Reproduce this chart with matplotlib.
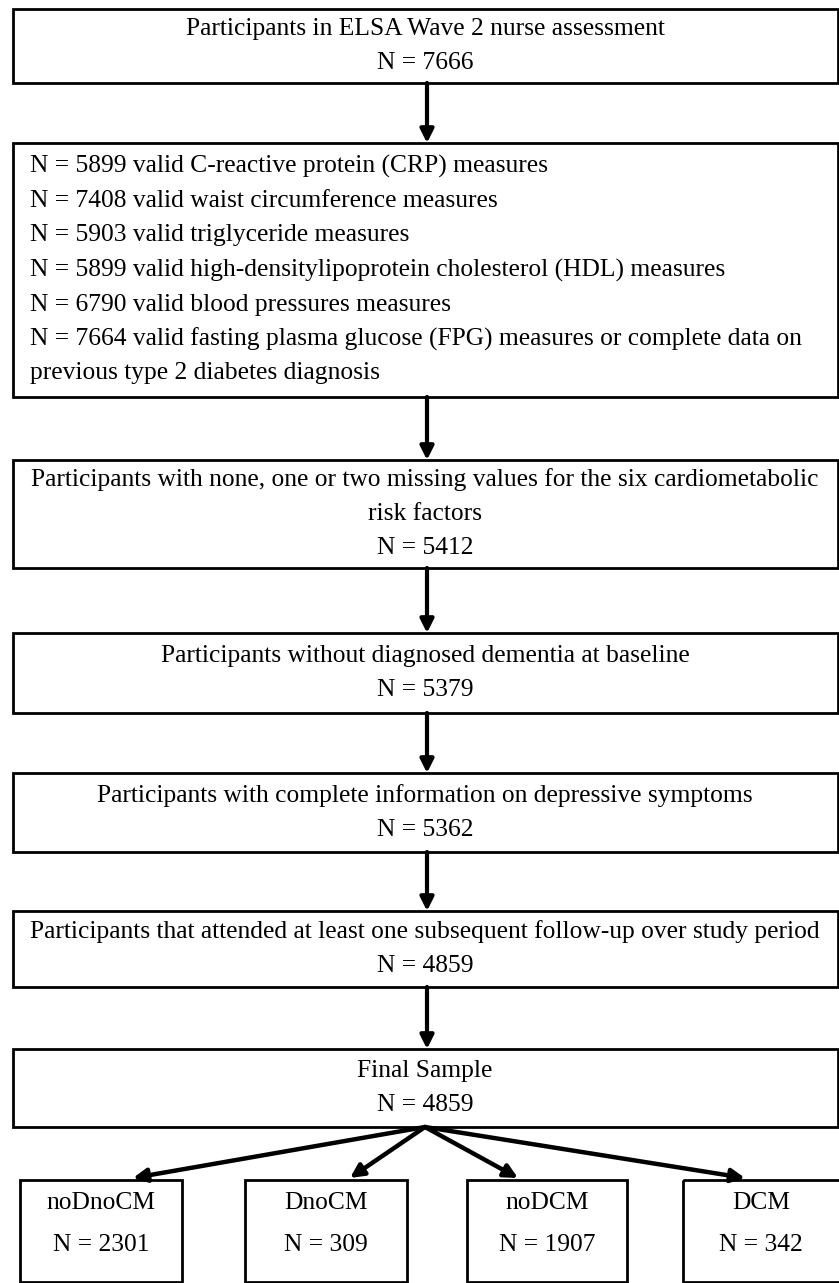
import matplotlib.pyplot as plt
from matplotlib.patches import Rectangle, FancyArrowPatch

plt.rcParams["font.family"] = ["Liberation Serif", "DejaVu Serif"]

# flow steps (main column)
steps = [
    "Participants in ELSA Wave 2 nurse assessment",
    None,
    "Participants with none, one or two missing values for the six cardiometabolic\nrisk factors",
    "Participants without diagnosed dementia at baseline",
    "Participants with complete information on depressive symptoms",
    "Participants that attended at least one subsequent follow-up over study period",
    "Final Sample",
]
step_n = [7666, None, 5412, 5379, 5362, 4859, 4859]

# valid measures box
criteria = [
    "valid C-reactive protein (CRP) measures",
    "valid waist circumference measures",
    "valid triglyceride measures",
    "valid high-densitylipoprotein cholesterol (HDL) measures",
    "valid blood pressures measures",
    "valid fasting plasma glucose (FPG) measures or complete data on\nprevious type 2 diabetes diagnosis",
]
criteria_n = [5899, 7408, 5903, 5899, 6790, 7664]

# final groups
groups = ["noDnoCM", "DnoCM", "noDCM", "DCM"]
group_n = [2301, 309, 1907, 342]

# layout (pixels)
W, H = 839, 1283
box_x = (13, 838)
box_y = [(9, 83), (143, 397), (460, 568), (633, 713), (773, 852), (911, 987), (1049, 1127)]
group_x = [(20, 182), (245, 407), (467, 627), (683, 845)]
group_y = (1180, 1282)
group_tip = [133, 350, 518, 745]
arrow_x = 427
fs = 18.4
line_h = 34.5

fig = plt.figure(figsize=(W / 100, H / 100), dpi=100)
ax = fig.add_axes([0, 0, 1, 1])
ax.set_xlim(0, W)
ax.set_ylim(H, 0)
ax.axis("off")


def box(x0, x1, y0, y1, lw=2.0):
    ax.add_patch(Rectangle((x0, y0), x1 - x0, y1 - y0, fill=False,
                           edgecolor="black", lw=lw))


def arrow(x0, y0, x1, y1, lw=3, ms=20):
    ax.add_patch(FancyArrowPatch((x0, y0), (x1, y1), arrowstyle="-|>",
                                 mutation_scale=ms, lw=lw, color="black",
                                 shrinkA=0, shrinkB=0))


for i, (y0, y1) in enumerate(box_y):
    box(box_x[0], box_x[1], y0, y1)
    if steps[i] is None:
        lines = []
        for n, c in zip(criteria_n, criteria):
            lines += f"N = {n} {c}".split("\n")
        y = (y0 + y1) / 2 - line_h * (len(lines) - 1) / 2
        for ln in lines:
            ax.text(30, y, ln, fontsize=fs, ha="left", va="center")
            y += line_h
    else:
        lines = steps[i].split("\n") + [f"N = {step_n[i]}"]
        y = (y0 + y1) / 2 - line_h * (len(lines) - 1) / 2
        for ln in lines:
            ax.text(425, y, ln, fontsize=fs, ha="center", va="center")
            y += line_h
    if i > 0:
        arrow(arrow_x, box_y[i - 1][1], arrow_x, y0)

for (x0, x1), g, n, tip in zip(group_x, groups, group_n, group_tip):
    box(x0, x1, group_y[0], group_y[1])
    cx = (x0 + min(x1, W)) / 2
    ax.text(cx, group_y[0] + 23, g, fontsize=fs, ha="center", va="center")
    ax.text(cx, group_y[0] + 65, f"N = {n}", fontsize=fs, ha="center", va="center")
    arrow(425, box_y[-1][1], tip, group_y[0] - 2, lw=3.2)

fig.savefig("out.png", dpi=100, facecolor="white")
